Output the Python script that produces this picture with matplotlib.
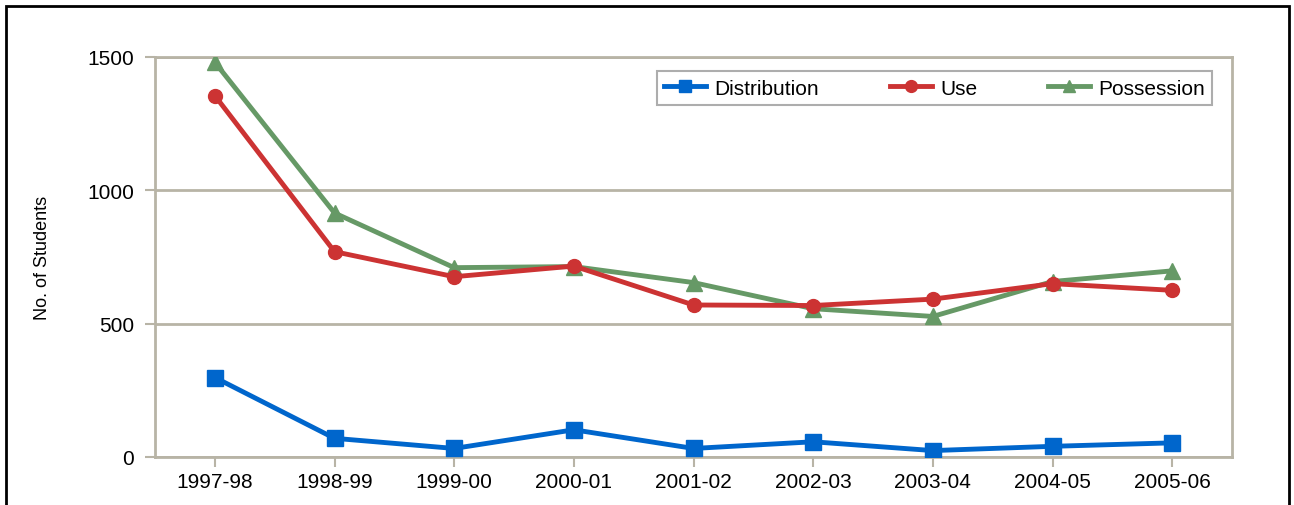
import matplotlib.pyplot as plt
from matplotlib.patches import Rectangle

years = ['1997-98', '1998-99', '1999-00', '2000-01', '2001-02',
         '2002-03', '2003-04', '2004-05', '2005-06']
distribution = [298, 70, 32, 102, 32, 57, 24, 40, 53]
use = [1355, 770, 676, 716, 570, 568, 592, 650, 625]
possession = [1480, 915, 710, 714, 654, 556, 527, 658, 698]

plt.rcParams['font.family'] = ['Liberation Sans', 'DejaVu Sans']
grid_col = '#b8b4a6'

fig = plt.figure(figsize=(12.94, 5.06), dpi=100)
ax = fig.add_axes([0.1198, 0.0949, 0.9521 - 0.1198, 0.8854 - 0.0949])

x = list(range(len(years)))
ax.plot(x, distribution, color='#0066cc', marker='s', markersize=11, linewidth=3.5, label='Distribution', zorder=3)
ax.plot(x, use, color='#cc3333', marker='o', markersize=10, linewidth=3.5, label='Use', zorder=4)
ax.plot(x, possession, color='#669966', marker='^', markersize=11, linewidth=3.5, label='Possession', zorder=3)

ax.set_xlim(-0.5, len(years) - 0.5)
ax.set_ylim(0, 1500)
ax.set_yticks([0, 500, 1000, 1500])
ax.set_xticks(x)
ax.set_xticklabels(years)
ax.tick_params(axis='both', labelsize=15, colors=grid_col, labelcolor='black', length=7, width=1.5)
ax.tick_params(axis='x', pad=4)
ax.tick_params(axis='y', pad=8)
ax.yaxis.grid(True, color=grid_col, linewidth=2)
ax.set_axisbelow(True)
for s in ax.spines.values():
    s.set_color(grid_col)
    s.set_linewidth(2)
ax.set_ylabel('No. of Students', fontsize=13, labelpad=26)

leg = ax.legend(loc='upper right', bbox_to_anchor=(0.991, 0.99), ncol=3, fontsize=15,
                frameon=True, fancybox=False, edgecolor='#999999', columnspacing=3.4,
                handlelength=2.0, handletextpad=0.4, borderpad=0.35, markerscale=0.85)
leg.get_frame().set_linewidth(1.5)

fig.patches.append(Rectangle((6 / 1294, -0.05), 1283 / 1294, 1.05 - 7 / 506,
                             transform=fig.transFigure, fill=False,
                             edgecolor='black', linewidth=2, clip_on=False))

fig.savefig('out.png', dpi=100)
